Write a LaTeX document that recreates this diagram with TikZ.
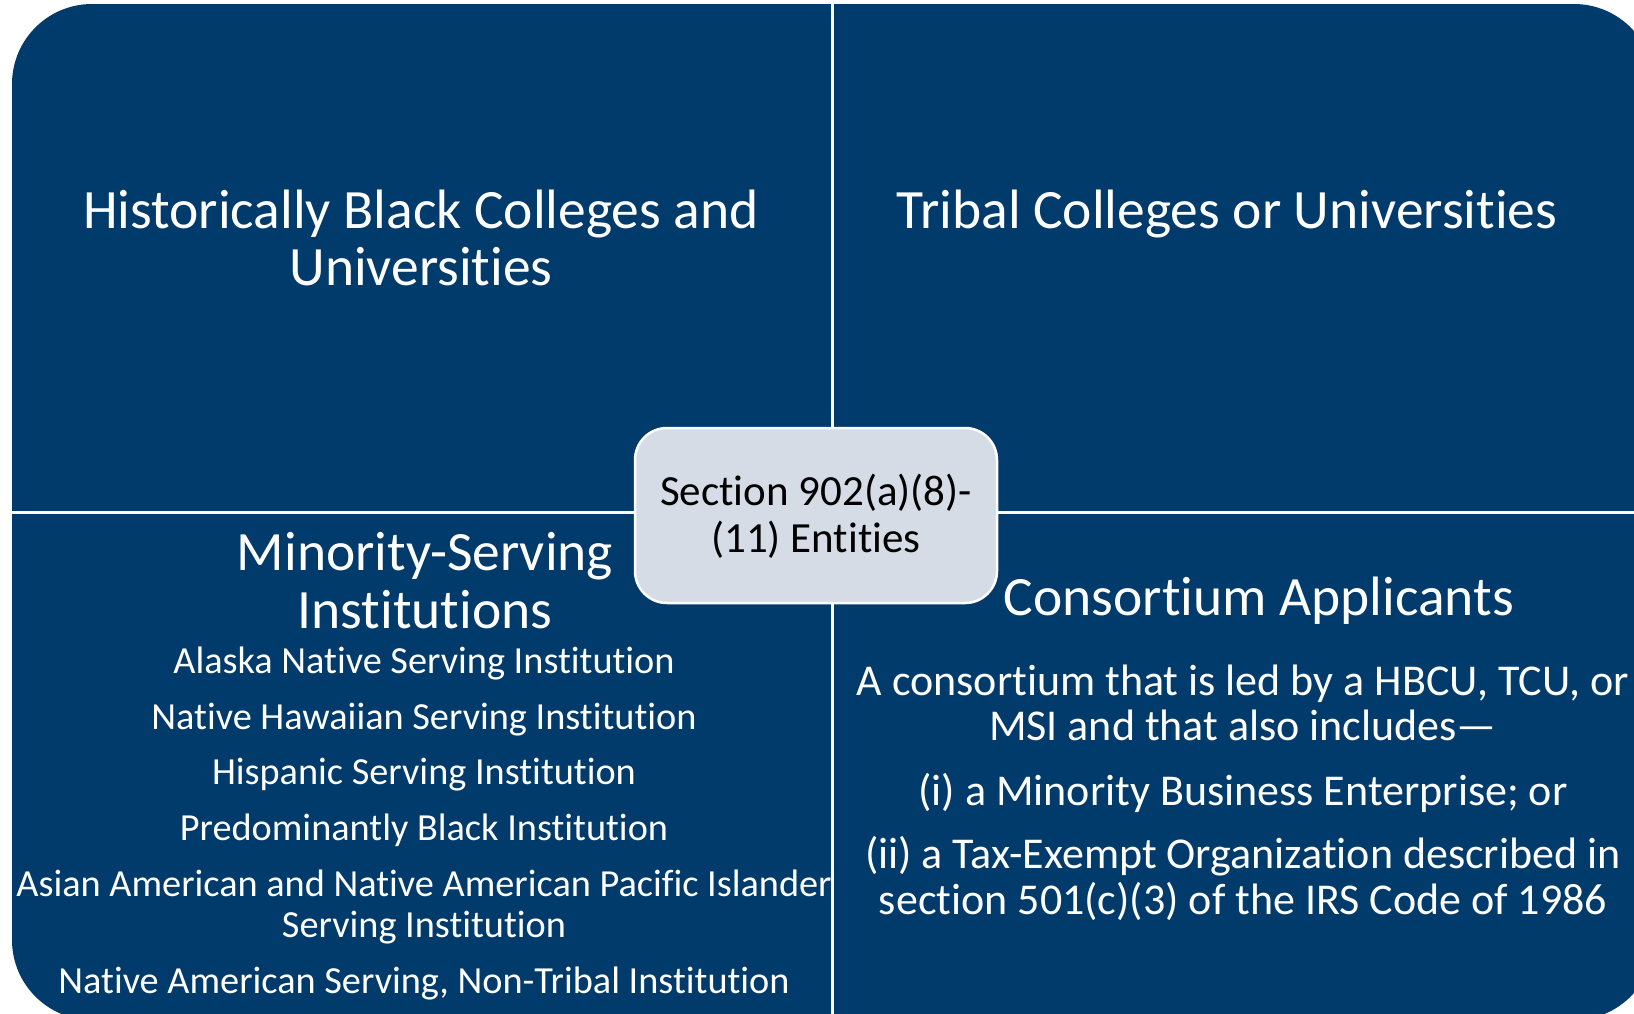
\documentclass[tikz,border=0pt]{standalone}
\usepackage{fontspec}
\setmainfont{Carlito}[Ligatures=NoCommon]
\definecolor{navy}{RGB}{0,59,107}
\definecolor{paleblue}{RGB}{214,220,229}
\tikzset{
  ttl/.style={text=white, anchor=base, inner sep=0pt, font=\fontsize{55.5}{66}\selectfont},
  itm/.style={text=white, anchor=base, inner sep=0pt, font=\fontsize{38.3}{46}\selectfont},
  bod/.style={text=white, anchor=base, inner sep=0pt, font=\fontsize{44}{52}\selectfont},
  ctr/.style={text=black, anchor=base, inner sep=0pt, font=\fontsize{43}{52}\selectfont},
  divider/.style={white, line width=3pt},
}
\begin{document}
\begin{tikzpicture}[x=1pt, y=-1pt]
\useasboundingbox (0,0) rectangle (1634,1013);
\clip (0,0) rectangle (1634,1013);
\fill[white] (0,0) rectangle (1634,1013);
% outer matrix
\fill[navy, rounded corners=80pt] (12,4) rectangle (1654,1020);
\draw[divider] (832,0) -- (832,1020);
\draw[divider] (0,512) -- (1660,512);
% center box
\node[draw=white, line width=2.5pt, fill=paleblue, rounded corners=32pt,
      minimum width=362pt, minimum height=175pt, inner sep=0pt] (center) at (816,515.5) {};
\node[ctr] (c1) at (816,505) {Section 902(a)(8)-};
\node[ctr] (c2) at (816,552) {(11) Entities};
% top-left
\node[ttl] (h1) at (421,228) {Historically Black Colleges and};
\node[ttl] (h2) at (421,285) {Universities};
% top-right
\node[ttl] (t1) at (1227,228) {Tribal Colleges or Universities};
% bottom-left
\node[ttl] (m1) at (425,570) {Minority-Serving};
\node[ttl] (m2) at (425,628) {Institutions};
\node[itm] (i1) at (424,673) {Alaska Native Serving Institution};
\node[itm] (i2) at (424,729) {Native Hawaiian Serving Institution};
\node[itm] (i3) at (424,784) {Hispanic Serving Institution};
\node[itm] (i4) at (424,840) {Predominantly Black Institution};
\node[itm] (i5) at (424,896) {Asian American and Native American Pacific Islander};
\node[itm] (i6) at (424,937) {Serving Institution};
\node[itm] (i7) at (424,993) {Native American Serving, Non-Tribal Institution};
% bottom-right
\node[ttl] (k1) at (1259,615) {Consortium Applicants};
\node[bod] (b1) at (1243,695) {A consortium that is led by a HBCU, TCU, or};
\node[bod] (b2) at (1243,740) {MSI and that also includes—};
\node[bod] (b3) at (1243,805) {(i) a Minority Business Enterprise; or};
\node[bod] (b4) at (1243,868) {(ii) a Tax-Exempt Organization described in};
\node[bod] (b5) at (1243,914) {section 501(c)(3) of the IRS Code of 1986};
\end{tikzpicture}
\end{document}
